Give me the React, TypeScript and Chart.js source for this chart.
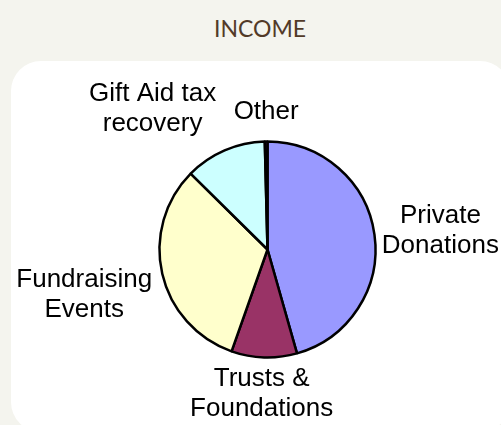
import React, { useEffect, useRef } from "react";
import { Chart, registerables } from "chart.js";

Chart.register(...registerables);

// ---- data ----
const categories: string[][] = [
  ["Private", "Donations"],
  ["Trusts &", "Foundations"],
  ["Fundraising", "Events"],
  ["Gift Aid tax", "recovery"],
  ["Other"],
];
const incomeShare: number[] = [45.6, 9.8, 32.0, 12.2, 0.4];
const sliceColors: string[] = ["#9999FF", "#993366", "#FFFFCC", "#CCFFFF", "#660066"];

// ---- layout / style (not data) ----
const W = 501;
const H = 425;
const PIE_CX = 267.5;
const PIE_CY = 249.5;
const PIE_R = 108;
const LABEL_FONT = "26px 'Liberation Sans', Arial, sans-serif";
const LABEL_LINE = 29.5;
const LABEL_GAP = 7;
// small per-label nudges (px) mimicking the spreadsheet's collision-avoiding placement
const labelNudge: [number, number][] = [
  [1, 1],
  [0, 0],
  [-5, 13],
  [-44, -8],
  [0.5, -8],
];

const outsideLabels = {
  id: "outsideLabels",
  afterDatasetsDraw(chart: any) {
    const ctx = chart.ctx as CanvasRenderingContext2D;
    const meta = chart.getDatasetMeta(0);
    const labels = chart.data.labels as string[][];
    ctx.save();
    ctx.font = LABEL_FONT;
    ctx.fillStyle = "#000";
    ctx.textAlign = "center";
    ctx.textBaseline = "middle";
    meta.data.forEach((arc: any, i: number) => {
      const p = arc.getProps(["x", "y", "startAngle", "endAngle", "outerRadius"], true);
      const mid = (p.startAngle + p.endAngle) / 2;
      const ux = Math.cos(mid);
      const uy = Math.sin(mid);
      const lines = labels[i];
      const w = Math.max(...lines.map((l) => ctx.measureText(l).width));
      const h = lines.length * LABEL_LINE;
      const px = p.x + (p.outerRadius + LABEL_GAP) * ux;
      const py = p.y + (p.outerRadius + LABEL_GAP) * uy;
      const cx = px + (ux * w) / 2 + labelNudge[i][0];
      const cy = py + (uy * h) / 2 + labelNudge[i][1];
      const top = cy - h / 2;
      lines.forEach((line, k) => {
        ctx.fillText(line, cx, top + LABEL_LINE * (k + 0.5));
      });
    });
    ctx.restore();
  },
};

export default function App() {
  const canvasRef = useRef<HTMLCanvasElement | null>(null);

  useEffect(() => {
    if (!canvasRef.current) return;
    const half = 130;
    const chart = new Chart(canvasRef.current, {
      type: "pie",
      data: {
        labels: categories,
        datasets: [
          {
            data: incomeShare,
            backgroundColor: sliceColors,
            borderColor: "#000000",
            borderWidth: 2.5,
            radius: PIE_R,
          } as any,
        ],
      },
      options: {
        responsive: false,
        animation: false,
        layout: {
          padding: {
            left: PIE_CX - half,
            right: W - (PIE_CX + half),
            top: PIE_CY - half,
            bottom: H - (PIE_CY + half),
          },
        },
        plugins: {
          legend: { display: false },
          tooltip: { enabled: false },
          title: { display: false },
        },
      },
      plugins: [outsideLabels],
    });
    return () => chart.destroy();
  }, []);

  return (
    <div
      style={{
        position: "fixed",
        left: 0,
        top: 0,
        width: W,
        height: H,
        overflow: "hidden",
        background: "#f4f4ee",
      }}
    >
      <div
        style={{
          position: "absolute",
          left: 11,
          top: 61,
          width: 499,
          height: 371,
          borderRadius: 30,
          background: "#ffffff",
        }}
      />
      <div
        style={{
          position: "absolute",
          left: 0,
          width: 520,
          top: 14,
          textAlign: "center",
          fontFamily: "Lato, 'Open Sans', sans-serif",
          fontSize: 23,
          lineHeight: "28px",
          color: "#523a28",
        }}
      >
        INCOME
      </div>
      <canvas
        ref={canvasRef}
        width={W}
        height={H}
        style={{ position: "absolute", left: 0, top: 0, display: "block" }}
      />
    </div>
  );
}
